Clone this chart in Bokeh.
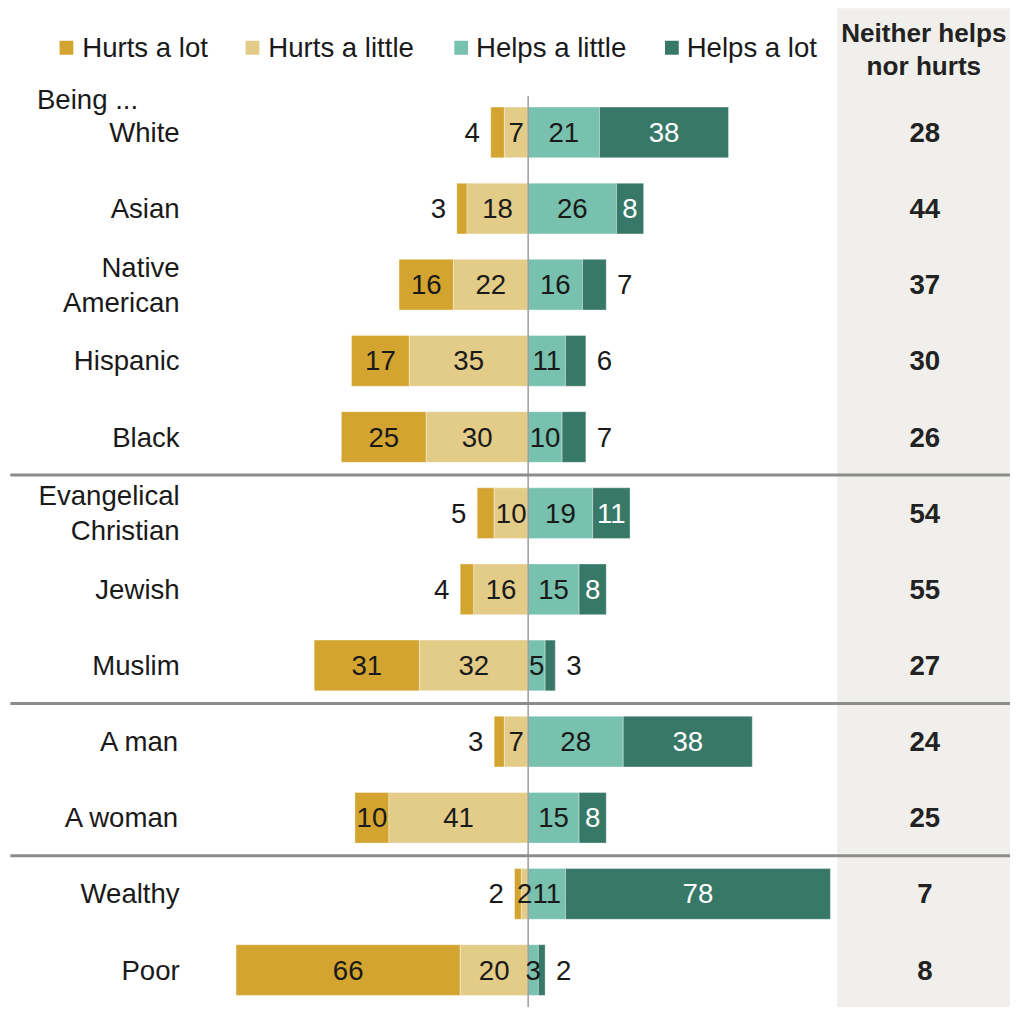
from bokeh.plotting import figure
from bokeh.models import Range1d
from bokeh.embed import file_html
from bokeh.resources import INLINE
from bokeh.core.properties import value

# ---------------- data ----------------
categories = ["White", "Asian", "Native\nAmerican", "Hispanic", "Black",
              "Evangelical\nChristian", "Jewish", "Muslim",
              "A man", "A woman", "Wealthy", "Poor"]
group_sizes = [5, 3, 2, 2]
series_names = ["Hurts a lot", "Hurts a little", "Helps a little", "Helps a lot"]
hurts_lot = [4, 3, 16, 17, 25, 5, 4, 31, 3, 10, 2, 66]
hurts_little = [7, 18, 22, 35, 30, 10, 16, 32, 7, 41, 2, 20]
helps_little = [21, 26, 16, 11, 10, 19, 15, 5, 28, 15, 11, 3]
helps_lot = [38, 8, 7, 6, 7, 11, 8, 3, 38, 8, 78, 2]
neither = [28, 44, 37, 30, 26, 54, 55, 27, 24, 25, 7, 8]
prefix_label = "Being ..."
neither_title = "Neither helps\nnor hurts"

colors = ["#D3A430", "#E3CB88", "#77C1AE", "#387867"]
FONT = "Liberation Sans"

# ---------------- geometry helpers (reference-pixel space, scaled to fit) ----------------
W, H = 1010, 1007
REF_W, REF_H = 1026, 1023
K = W / REF_W
S = 3.45          # reference px per percentage point
PX0 = 536         # reference x of zero
ROW = 77.36       # reference px per row
PY0 = 134         # reference y of first row centre


def X(px):
    return (px - PX0) / S


def Y(py):
    return (py - PY0) / ROW


def fs(px):
    return "%.1fpx" % (px * K)


p = figure(width=W, height=H, output_backend="svg", toolbar_location=None,
           x_axis_type=None, y_axis_type=None, min_border=0,
           x_range=Range1d(X(0), X(REF_W)),
           y_range=Range1d(Y(REF_H), Y(0)))
p.grid.visible = False
p.outline_line_color = None
p.background_fill_color = "white"
p.border_fill_color = "white"

# gray panel for "neither"
p.quad(left=X(850), right=X(REF_W + 20), top=Y(8), bottom=Y(REF_H + 20),
       fill_color="#F0EFEB", line_color=None)

n = len(categories)
ys = list(range(n))
bar_h = 51.5 / ROW

segs = []
for i in range(n):
    a, b, c, d = hurts_lot[i], hurts_little[i], helps_little[i], helps_lot[i]
    segs.append([(-(a + b), -b, a), (-b, 0, b), (0, c, c), (c, c + d, d)])

for k in range(4):
    p.hbar(y=ys, left=[segs[i][k][0] for i in range(n)],
           right=[segs[i][k][1] for i in range(n)], height=bar_h,
           fill_color=colors[k], line_color="white", line_alpha=0.35, line_width=1)

# centre line
p.segment(x0=[0], y0=[Y(97)], x1=[0], y1=[Y(REF_H + 10)], line_color="#9C9C9C", line_width=1.5)

# separators
b = -0.5
for gs in group_sizes[:-1]:
    b += gs
    p.segment(x0=[X(10)], y0=[b], x1=[X(REF_W + 20)], y1=[b], line_color="#8C8C8C", line_width=3)

# value labels
FS = fs(28)
for i in range(n):
    for k in range(4):
        l, r, v = segs[i][k]
        outer = k in (0, 3)
        if outer and v < 8:
            if k == 0:
                p.text(x=[l - 11 / S], y=[i], text=[str(v)], text_align="right",
                       text_baseline="middle", text_font=value(FONT), text_font_size=FS,
                       text_color="#1a1a1a")
            else:
                p.text(x=[r + 11 / S], y=[i], text=[str(v)], text_align="left",
                       text_baseline="middle", text_font=value(FONT), text_font_size=FS,
                       text_color="#1a1a1a")
        else:
            col = "white" if k == 3 else "#1a1a1a"
            p.text(x=[(l + r) / 2], y=[i], text=[str(v)], text_align="center",
                   text_baseline="middle", text_font=value(FONT), text_font_size=FS,
                   text_color=col)

# category labels
p.text(x=[X(182)] * n, y=ys, text=categories, text_align="right", text_baseline="middle",
       text_font=value(FONT), text_font_size=FS, text_color="#1a1a1a", text_line_height=1.12)
p.text(x=[X(37)], y=[Y(101)], text=[prefix_label], text_align="left", text_baseline="middle",
       text_font=value(FONT), text_font_size=FS, text_color="#1a1a1a")

# neither column
p.text(x=[X(939)] * n, y=ys, text=[str(v) for v in neither], text_align="center",
       text_baseline="middle", text_font=value(FONT), text_font_size=FS,
       text_font_style="bold", text_color="#222222")
p.text(x=[X(938)], y=[Y(50)], text=[neither_title], text_align="center",
       text_baseline="middle", text_font=value(FONT), text_font_size=fs(26.5),
       text_font_style="bold", text_color="#222222", text_line_height=1.1)

# legend
sw_px = [67, 256, 468, 682]
tx_px = [83, 272, 483, 697]
for k in range(4):
    p.scatter(x=[X(sw_px[k])], y=[Y(48)], marker="square", size=14 * K,
              fill_color=colors[k], line_color=None)
    p.text(x=[X(tx_px[k])], y=[Y(48)], text=[series_names[k]], text_align="left",
           text_baseline="middle", text_font=value(FONT), text_font_size=FS,
           text_color="#1a1a1a")

open("out.html", "w").write(file_html(p, INLINE))
